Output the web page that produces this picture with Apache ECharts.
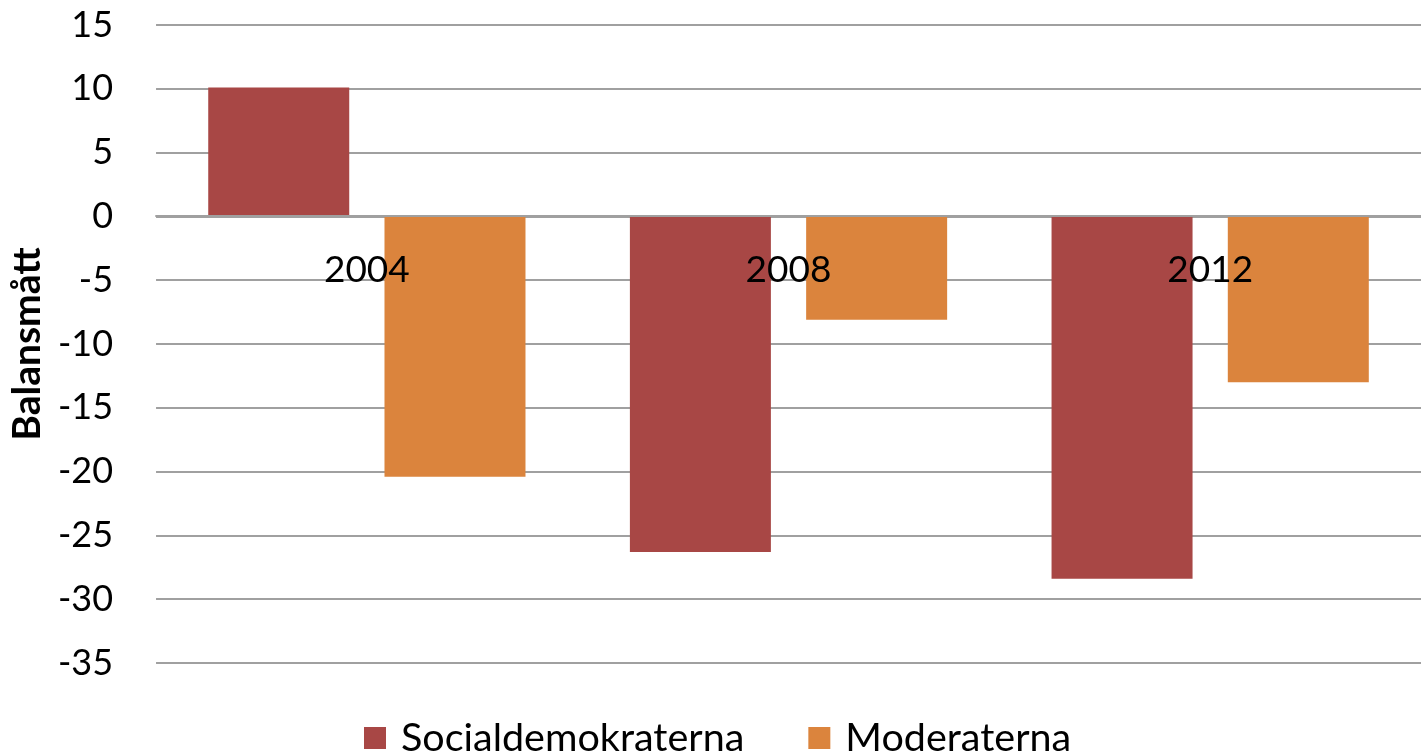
<!DOCTYPE html>
<html>
<head>
<meta charset="utf-8">
<script src="https://cdn.jsdelivr.net/npm/echarts@6/dist/echarts.min.js"></script>
<style>
  html, body { margin: 0; padding: 0; background: #fff; }
  #chart { width: 1421px; height: 753px; }
</style>
</head>
<body>
<div id="chart"></div>
<script>
// values
const years = ['2004', '2008', '2012'];
const socialdemokraterna = [10.1, -26.3, -28.4];
const moderaterna = [-20.4, -8.1, -13.0];
const seriesNames = ['Socialdemokraterna', 'Moderaterna'];

const font = 'Lato, "Open Sans", sans-serif';
const chart = echarts.init(document.getElementById('chart'));

// plot is 638px tall for -35..15, zero sits 35/50 of the way up
const zeroOffset = -Math.round(638 * 35 / 50);

chart.setOption({
  animation: false,
  color: ['#A84745', '#DB843D'],
  grid: { left: 155, width: 1272, top: 25, height: 638 },
  legend: {
    data: seriesNames,
    top: 713,
    left: 359,
    itemWidth: 22,
    itemHeight: 22,
    itemGap: 64,
    icon: 'rect',
    textStyle: { fontFamily: font, fontSize: 39.5, color: '#000', padding: [0, 0, 0, 10] },
  },
  xAxis: {
    type: 'category',
    data: years,
    z: 10,
    offset: zeroOffset,
    axisLine: { onZero: false, lineStyle: { color: '#a0a0a0', width: 2 } },
    axisTick: { show: false },
    axisLabel: { margin: 36, fontFamily: font, fontSize: 37, color: '#000' },
  },
  yAxis: {
    type: 'value',
    min: -35,
    max: 15,
    interval: 5,
    name: 'Balansmått',
    nameLocation: 'middle',
    nameGap: 109,
    nameTextStyle: { fontFamily: font, fontSize: 39, fontWeight: 'bold', color: '#000' },
    axisLine: { show: false },
    axisTick: { show: false },
    axisLabel: { margin: 43, fontFamily: font, fontSize: 36, color: '#000' },
    splitLine: { lineStyle: { color: '#a0a0a0', width: 2 } },
  },
  series: [
    {
      name: seriesNames[0],
      type: 'bar',
      data: socialdemokraterna,
      barWidth: 141,
      barGap: '25%',
    },
    {
      name: seriesNames[1],
      type: 'bar',
      data: moderaterna,
      barWidth: 141,
      barGap: '25%',
    },
  ],
});
</script>
</body>
</html>
